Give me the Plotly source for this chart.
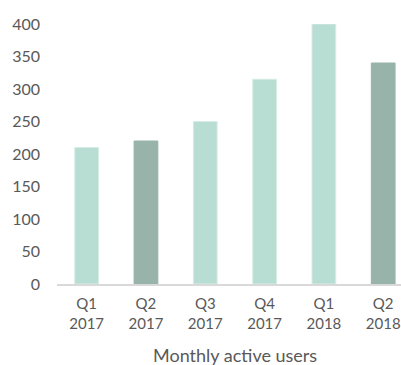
import plotly.graph_objects as go

categories = ["Q1<br>2017", "Q2<br>2017", "Q3<br>2017", "Q4<br>2017", "Q1<br>2018", "Q2<br>2018"]
values = [210, 220, 250, 315, 400, 340]
bar_colors = ["#B8DDD3", "#97B3AA", "#B8DDD3", "#B8DDD3", "#B8DDD3", "#97B3AA"]
line_colors = ["#D6ECE5", "#97B3AA", "#D6ECE5", "#D6ECE5", "#D6ECE5", "#97B3AA"]
y_ticks = [0, 50, 100, 150, 200, 250, 300, 350, 400]
x_title = "Monthly active users"

text_color = "#595959"
font_family = "Lato, 'Open Sans', sans-serif"

fig = go.Figure(go.Bar(
    x=list(range(len(categories))),
    y=values,
    marker=dict(color=bar_colors, line=dict(color=line_colors, width=1)),
    width=0.4,
))

fig.update_layout(
    width=401, height=365,
    margin=dict(l=57, r=0, t=24, b=81),
    paper_bgcolor="white", plot_bgcolor="white",
    showlegend=False,
    font=dict(family=font_family, size=16, color=text_color),
    annotations=[dict(
        text=x_title, x=2.5, xref="x", y=0, yref="paper",
        yshift=-58, yanchor="top", showarrow=False,
        font=dict(family=font_family, size=18, color=text_color),
    )],
)
fig.update_xaxes(
    range=[-0.5, 5.3],
    tickmode="array", tickvals=list(range(len(categories))), ticktext=categories,
    tickfont=dict(size=15),
    showgrid=False, zeroline=False,
    showline=True, linecolor="#D9D9D9", linewidth=2,
    ticks="", ticklabelstandoff=5,
)
fig.update_yaxes(
    range=[0, 400],
    tickmode="array", tickvals=y_ticks,
    showgrid=False, zeroline=False, showline=False,
    ticks="", ticklabelstandoff=16,
)

fig.write_html("out.html")
